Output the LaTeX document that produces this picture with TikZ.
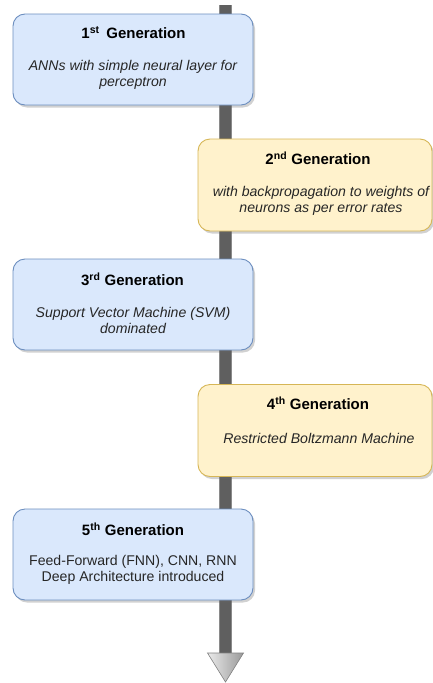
\documentclass[tikz,border=0pt]{standalone}
\usepackage{fontspec}
\setmainfont{Liberation Sans}
\usetikzlibrary{shadows}

\definecolor{blueFill}{HTML}{DAE8FC}
\definecolor{blueLine}{HTML}{6C8EBF}
\definecolor{yellowFill}{HTML}{FFF2CC}
\definecolor{yellowLine}{HTML}{D6B656}
\definecolor{barFill}{HTML}{5F5F5F}
\definecolor{barEdge}{HTML}{8A8A8A}
\definecolor{bodyText}{HTML}{262626}

\tikzset{
  genbox/.style={rectangle, rounded corners=12pt, line width=0.9pt,
    inner sep=0pt,
    drop shadow={shadow xshift=2pt, shadow yshift=-2.5pt, opacity=0.3, fill=black!60}},
  bluebox/.style={genbox, fill=blueFill, draw=blueLine,
    minimum width=240pt, minimum height=91pt},
  yellowbox/.style={genbox, fill=yellowFill, draw=yellowLine,
    minimum width=234pt, minimum height=92pt},
  gentitle/.style={inner sep=0pt, font=\fontsize{15}{16}\selectfont\bfseries, text=black},
  genbody/.style={inner sep=0pt, align=center, text=bodyText,
    font=\fontsize{14.1}{16}\selectfont},
}

\begin{document}
\begin{tikzpicture}[x=1pt, y=-1pt]
  \useasboundingbox (0,0) rectangle (433,683);

  % timeline ends
  \coordinate (top) at (225.5,5);
  \coordinate (head) at (225.5,653);

  % timeline bar
  \draw[line width=13pt, draw=barEdge] (top) -- (head);
  \draw[line width=11pt, draw=barFill] (top) -- (head);

  % arrow head
  \path[draw=black!50, line width=0.6pt, left color=black!8, right color=black!40]
    (head) ++(-18,0) -- ++(36,0) -- ++(-18,29) -- cycle;

  % generation boxes
  \node[bluebox]   (g1) at (133,59.5)  {};
  \node[yellowbox] (g2) at (315,185)   {};
  \node[bluebox]   (g3) at (133,304.5) {};
  \node[yellowbox] (g4) at (315,430.5) {};
  \node[bluebox]   (g5) at (133,554.5) {};

  % titles
  \node[gentitle] (t1) at (133.5,33) {1\textsuperscript{st}\, Generation};
  \node[gentitle] (t2) at (318,158)  {2\textsuperscript{nd} Generation};
  \node[gentitle] (t3) at (132.5,279) {3\textsuperscript{rd} Generation};
  \node[gentitle] (t4) at (318,403)  {4\textsuperscript{th} Generation};
  \node[gentitle] (t5) at (133,529)  {5\textsuperscript{th} Generation};

  % descriptions
  \node[genbody] (b1) at (133,74.5) {\itshape ANNs with simple neural layer for\\\itshape perceptron};
  \node[genbody] (b2) at (321,200.5) {\itshape with backpropagation to weights of\\\itshape neurons as per error rates};
  \node[genbody] (b3) at (133,320) {\itshape Support Vector Machine (SVM)\\\itshape dominated};
  \node[genbody] (b4) at (319,438) {\itshape Restricted Boltzmann Machine};
  \node[genbody] (b5) at (133,570) {Feed-Forward (FNN), CNN, RNN\\Deep Architecture introduced};
\end{tikzpicture}
\end{document}
